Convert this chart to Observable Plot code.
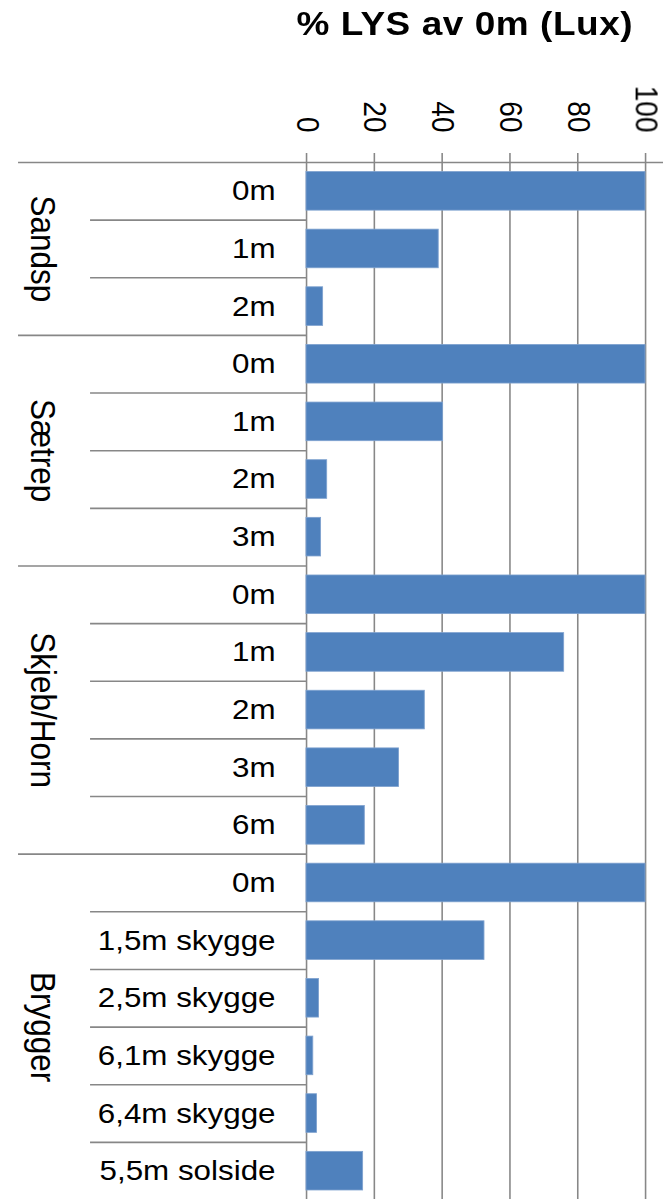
<!DOCTYPE html>
<html><head><meta charset="utf-8">
<script src="https://cdn.jsdelivr.net/npm/d3@7"></script>
<script src="https://cdn.jsdelivr.net/npm/@observablehq/plot@0.6"></script>
<style>
html,body{margin:0;padding:0;overflow:hidden;background:#fff;}
#wrap{position:absolute;left:0;top:0;width:592px;transform:scaleX(1.12);transform-origin:0 0;}
#title{position:absolute;left:215px;width:400px;top:7px;text-align:center;font:bold 33px/33px "Liberation Sans",Arial,sans-serif;letter-spacing:0.5px;color:#000;white-space:nowrap;}
#chart{position:absolute;left:0;top:0;}
</style></head><body>
<div id="wrap"><div id="chart"></div><div id="title"></div></div>
<script>
const title = "% LYS av 0m (Lux)";
const groupNames = ["Sandsp", "Sætrep", "Skjeb/Horn", "Brygger"];
const rowGroup = ["Sandsp","Sandsp","Sandsp",
  "Sætrep","Sætrep","Sætrep","Sætrep",
  "Skjeb/Horn","Skjeb/Horn","Skjeb/Horn","Skjeb/Horn","Skjeb/Horn",
  "Brygger","Brygger","Brygger","Brygger","Brygger","Brygger"];
const rowLabel = ["0m","1m","2m",
  "0m","1m","2m","3m",
  "0m","1m","2m","3m","6m",
  "0m","1,5m skygge","2,5m skygge","6,1m skygge","6,4m skygge","5,5m solside"];
const values = [100, 39, 4.9,
  100, 40.3, 6.1, 4.3,
  100, 76, 34.9, 27.3, 17.2,
  100, 52.5, 3.7, 2.0, 3.1, 16.7];
const xTicks = [0, 20, 40, 60, 80, 100];

document.getElementById("title").textContent = title;

const rows = rowLabel.map((label, i) => ({key: i + "|" + label, group: rowGroup[i], label, value: values[i]}));
const keys = rows.map(d => d.key);

const W = 592, H = 1199.5, mT = 162, mB = 0, mL = 273.2, mR = 16.1;
const step = (H - mT - mB) / rows.length;
const frameW = W - mL - mR;
const gray = "#878787";

const groupStarts = rows.filter((d, i) => i > 0 && rows[i - 1].group !== d.group).map(d => d.key);
const innerStarts = rows.filter((d, i) => i > 0 && rows[i - 1].group === d.group).map(d => d.key);

const groupMarks = groupNames.map(g => {
  const members = rows.filter(d => d.group === g);
  const n = members.length;
  const mid = Math.floor((n - 1) / 2);
  const extra = ((n - 1) / 2 - mid) * step;
  return Plot.text([g], {
    y: [members[mid].key],
    text: d => d,
    frameAnchor: "left",
    dx: 37.5 - mL,
    dy: extra,
    rotate: 90,
    textAnchor: "middle",
    lineAnchor: "middle",
    fontSize: 31.5,
    fill: "black"
  });
});

const chart = Plot.plot({
  width: W, height: H,
  marginTop: mT, marginBottom: mB, marginLeft: mL, marginRight: mR,
  style: {fontFamily: '"Liberation Sans", Arial, sans-serif', fontSize: "28px", overflow: "visible", background: "white", color: "black"},
  x: {domain: [0, 100], label: null},
  y: {domain: keys, padding: 0, round: false, label: null},
  marks: [
    Plot.gridX(xTicks, {stroke: gray, strokeOpacity: 1, strokeWidth: 1.4}),
    Plot.barX(rows, {x: "value", y: "key", fill: "#4F81BD", stroke: "#7fa2cf", strokeWidth: 0.8, insetTop: 9.5, insetBottom: 9.5}),
    Plot.axisX(xTicks, {anchor: "top", tickRotate: 90, tickSize: 10, tickPadding: 20, fontSize: 28, stroke: gray, strokeWidth: 1.4, fill: "black", label: null}),
    Plot.axisY(keys, {tickSize: 0, tickPadding: mL - 245.5, tickFormat: k => k.split("|")[1], fontSize: 28, fill: "black", label: null}),
    Plot.ruleY([keys[0]], {dy: -step / 2, insetLeft: -(mL - 16.1), insetRight: -mR, stroke: gray, strokeWidth: 1.6}),
    Plot.ruleY(groupStarts, {dy: -step / 2, insetLeft: -(mL - 16.1), insetRight: frameW, stroke: gray, strokeWidth: 1.6}),
    Plot.ruleY(innerStarts, {dy: -step / 2, insetLeft: -(mL - 80.4), insetRight: frameW, stroke: gray, strokeWidth: 1.6}),
    ...groupMarks
  ]
});
document.getElementById("chart").appendChild(chart);
</script>
</body></html>
